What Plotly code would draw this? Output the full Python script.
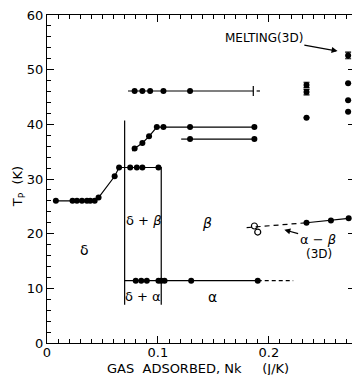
import plotly.graph_objects as go

# ---------------- data ----------------
# delta boundary (plateau, rise, delta+beta top)
delta_x = [0.008, 0.023, 0.027, 0.0315, 0.036, 0.039, 0.043, 0.0465, 0.061, 0.065, 0.075, 0.081, 0.086, 0.1005]
delta_T = [26.0, 26.0, 26.0, 26.0, 26.0, 26.0, 26.0, 26.6, 30.5, 32.1, 32.1, 32.1, 32.1, 32.1]
# phase boundaries without points
right_bound_x = [0.1005, 0.103, 0.103]
right_bound_T = [32.1, 32.1, 7.0]
left_bound_x = [0.070, 0.070]
left_bound_T = [7.0, 40.7]

# alpha line (delta+alpha / alpha)
alpha_x = [0.080, 0.085, 0.090, 0.1005, 0.103, 0.106, 0.130, 0.190]
alpha_T = [11.4, 11.4, 11.4, 11.4, 11.4, 11.4, 11.4, 11.4]
alpha_line_x = [0.070, 0.190]
alpha_dash_x = [0.190, 0.222]
alpha_line_T = [11.4, 11.4]

# upper beta boundary
beta_x = [0.079, 0.086, 0.092, 0.099, 0.105, 0.129, 0.187]
beta_T = [35.6, 36.6, 37.8, 39.5, 39.5, 39.5, 39.5]
beta_start_x = [0.077, 0.079]
beta_start_T = [35.1, 35.6]

# second line near 37 K
low_x = [0.129, 0.187]
low_T = [37.3, 37.3]
low_start_x = [0.121, 0.129]

# line near 46 K
top_x = [0.079, 0.086, 0.093, 0.105, 0.129]
top_T = [46.1, 46.1, 46.1, 46.1, 46.1]
top_line_x = [0.073, 0.186]
top_line_T = [46.1, 46.1]
top_end_x = [0.186]
top_dash_x = [0.189, 0.192]

# alpha-beta (3D)
ab_open_x = [0.187, 0.190]
ab_open_T = [21.4, 20.3]
ab_dash_x = [0.180, 0.234]
ab_dash_T = [21.1, 22.0]
ab_x = [0.234, 0.256, 0.272]
ab_T = [22.0, 22.4, 22.8]

# right-hand clusters
c1_x = [0.234, 0.234, 0.234]
c1_T = [47.2, 45.9, 41.2]
c1_err = [0.5, 0.5, 0.0]
c2_x = [0.2715, 0.2715, 0.2715, 0.2715]
c2_T = [52.6, 47.5, 44.4, 42.3]
c2_err = [0.6, 0.0, 0.0, 0.0]

x_ticks = [0, 0.1, 0.2]
x_ticklabels = ["0", "0.1", "0.2"]
y_ticks = [0, 10, 20, 30, 40, 50, 60]

# ---------------- figure ----------------
K = "black"
LW = 1.2
MS = 6
FONT = "DejaVu Sans"

fig = go.Figure()

def line(x, y, dash="solid"):
    fig.add_trace(go.Scatter(x=x, y=y, mode="lines", line=dict(color=K, width=LW, dash=dash),
                             showlegend=False, hoverinfo="skip"))

def pts(x, y, lines=True, err=None, symbol="circle"):
    kw = {}
    if err is not None:
        kw["error_y"] = dict(type="data", array=err, color=K, thickness=1.2, width=3)
    fig.add_trace(go.Scatter(x=x, y=y, mode="lines+markers" if lines else "markers",
                             line=dict(color=K, width=LW),
                             marker=dict(color=K, size=MS, symbol=symbol),
                             showlegend=False, hoverinfo="skip", **kw))

pts(delta_x, delta_T)
line(right_bound_x, right_bound_T)
line(left_bound_x, left_bound_T)

line(alpha_line_x, alpha_line_T)
line(alpha_dash_x, alpha_line_T, dash="4px,3px")
pts(alpha_x, alpha_T, lines=False)

line(beta_start_x, beta_start_T)
pts(beta_x, beta_T)

line(low_start_x, low_T)
pts(low_x, low_T)

line(top_line_x, top_line_T)
pts(top_x, top_T, lines=False)
fig.add_trace(go.Scatter(x=top_end_x, y=[top_T[0]], mode="markers",
                         marker=dict(symbol="line-ns", size=7, line=dict(color=K, width=1.2)),
                         showlegend=False, hoverinfo="skip"))
line(top_dash_x, top_line_T)

line(ab_dash_x, ab_dash_T, dash="5px,4px")
fig.add_trace(go.Scatter(x=ab_open_x, y=ab_open_T, mode="markers",
                         marker=dict(symbol="circle-open", size=6, color=K, line=dict(width=1.2)),
                         showlegend=False, hoverinfo="skip"))
pts(ab_x, ab_T)

pts(c1_x, c1_T, lines=False, err=c1_err)
pts(c2_x, c2_T, lines=False, err=c2_err)

# invisible trace for right axis ticks
fig.add_trace(go.Scatter(x=[0.1], y=[30], yaxis="y2", mode="markers",
                         marker=dict(opacity=0), showlegend=False, hoverinfo="skip"))

# text labels
def label(x, y, t, size=14):
    fig.add_annotation(x=x, y=y, text=t, showarrow=False, xanchor="center", yanchor="middle",
                       font=dict(family=FONT, size=size, color=K))

label(0.034, 17.0, "δ")
label(0.087, 22.5, "δ + <i>β</i>", 13)
label(0.087, 8.5, "δ + α", 13)
label(0.144, 22.0, "<i>β</i>")
label(0.149, 8.4, "α")
label(0.245, 16.3, "(3D)", 12)

# labels with arrows
fig.add_annotation(x=0.262, y=53.4, ax=0.1955, ay=55.8, axref="x", ayref="y",
                   text="MELTING(3D)", showarrow=True, arrowhead=2, arrowsize=1,
                   arrowwidth=1.2, arrowcolor=K, font=dict(family=FONT, size=12, color=K))
fig.add_annotation(x=0.214, y=20.7, ax=0.244, ay=19.0, axref="x", ayref="y",
                   text="α − <i>β</i>", showarrow=True, arrowhead=2, arrowsize=1,
                   arrowwidth=1.2, arrowcolor=K, font=dict(family=FONT, size=13, color=K))

# axis titles
fig.add_annotation(xref="paper", yref="y", x=-0.095, y=28.5, textangle=-90,
                   xanchor="center", yanchor="middle",
                   text="T<sub>P</sub>\u00a0\u00a0(K)", showarrow=False,
                   font=dict(family=FONT, size=13, color=K))
fig.add_annotation(xref="x", yref="paper", x=0.136, y=-0.078,
                   xanchor="center", yanchor="middle",
                   text="GAS\u00a0\u00a0ADSORBED,\u00a0Nk\u00a0\u00a0\u00a0\u00a0\u00a0(J/K)", showarrow=False,
                   font=dict(family=FONT, size=13, color=K))

fig.update_layout(
    width=352, height=375,
    margin=dict(l=47, r=0, t=15, b=32),
    paper_bgcolor="white", plot_bgcolor="white",
    font=dict(family=FONT, size=13, color=K),
    xaxis=dict(range=[0, 0.275], showgrid=False, zeroline=False,
               showline=True, linecolor=K, linewidth=1.2, mirror="ticks",
               ticks="inside", ticklen=7, tickwidth=1.2, tickcolor=K,
               tickvals=x_ticks, ticktext=x_ticklabels, ticklabelstandoff=-3,
               minor=dict(dtick=0.01, tick0=0, ticks="inside", ticklen=4, tickcolor=K, tickwidth=1, showgrid=False),
               tickfont=dict(family=FONT, size=13, color=K)),
    yaxis=dict(range=[0, 60], showgrid=False, zeroline=False,
               showline=True, linecolor=K, linewidth=1.2, mirror=False,
               ticks="inside", ticklen=7, tickwidth=1.2, tickcolor=K,
               tickvals=y_ticks,
               minor=dict(dtick=2, tick0=0, ticks="inside", ticklen=4, tickcolor=K, tickwidth=1, showgrid=False),
               tickfont=dict(family=FONT, size=13, color=K)),
    yaxis2=dict(range=[0, 60], overlaying="y", side="right", showgrid=False, zeroline=False,
                showline=False, ticks="inside", ticklen=4, tickwidth=1.2, tickcolor=K,
                tickvals=y_ticks, showticklabels=False),
)

fig.write_html("out.html", config={"displayModeBar": False},
               post_script="document.body.style.margin='0px';")
